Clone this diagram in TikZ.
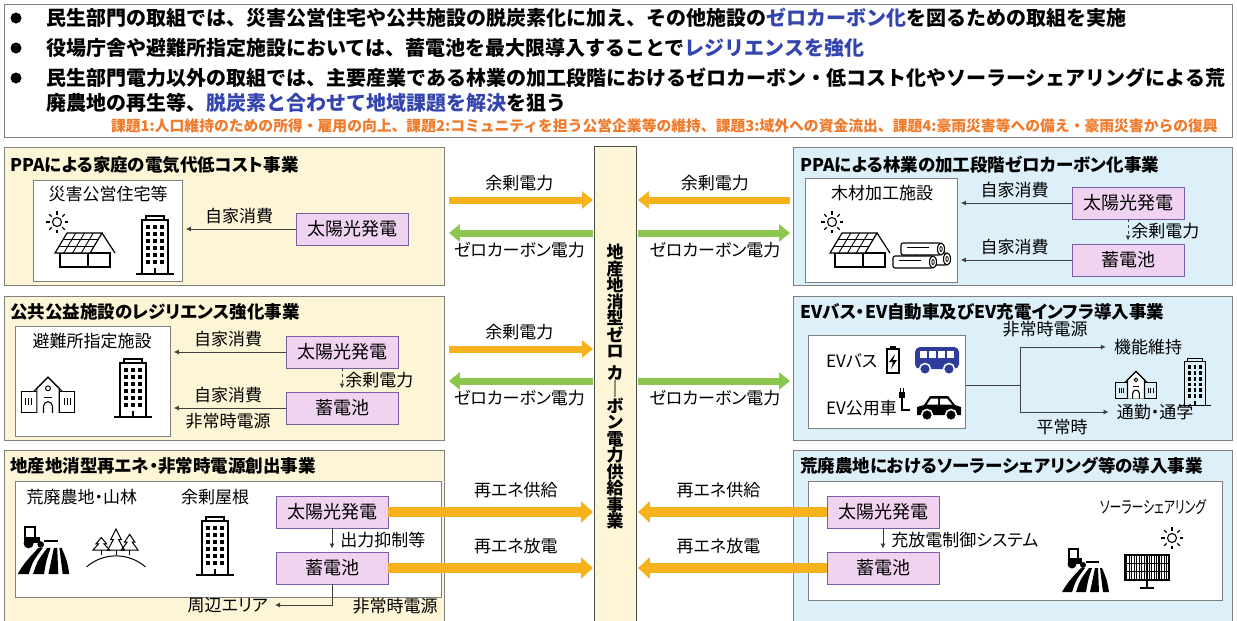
\documentclass[tikz,border=0pt]{standalone}
\usepackage{fontspec}
\setmainfont{Noto Sans CJK JP}
\newfontfamily\prop{Noto Sans CJK JP}[RawFeature=+palt]
\usetikzlibrary{arrows.meta,positioning}

% colori
\definecolor{giallino}{HTML}{FCF5D6}
\definecolor{azzurrino}{HTML}{DDEFF9}
\definecolor{rosa}{HTML}{F0D3F0}
\definecolor{viola}{HTML}{7A5FA8}
\definecolor{arancio}{HTML}{F5B21C}
\definecolor{verde}{HTML}{8CC64E}
\definecolor{blutesto}{HTML}{3545AE}
\definecolor{aranciotesto}{HTML}{F07A2A}
\definecolor{bordo}{HTML}{808080}
\definecolor{blubus}{HTML}{2F3C9C}

\tikzset{
  pannello/.style={draw=bordo, line width=0.9pt, anchor=north west, inner sep=0pt},
  bianco/.style={draw=bordo, line width=0.9pt, fill=white, anchor=north west, inner sep=0pt},
  titolo/.style={anchor=west, inner sep=0pt, font=\prop\bfseries\fontsize{17.5}{19}\selectfont},
  riga/.style={anchor=west, inner sep=0pt, font=\bfseries\fontsize{20}{22}\selectfont},
  etichetta/.style={inner sep=0pt, font=\prop\fontsize{17}{19}\selectfont},
  scatola/.style={draw=viola, line width=0.9pt, fill=rosa, minimum width=112pt, minimum height=32pt, inner sep=0pt, font=\prop\fontsize{18}{20}\selectfont},
  freccia/.style={line width=0.8pt, draw=black!75, -{Latex[length=5pt,width=5pt]}, shorten >=3pt},
  giallo/.style={line width=7pt, draw=arancio, -{Triangle[length=11pt,width=17pt]}},
  verdefr/.style={line width=7pt, draw=verde, -{Triangle[length=11pt,width=17pt]}},
  gialloG/.style={line width=10pt, draw=arancio, -{Triangle[length=12pt,width=21pt]}},
  % icone
  pics/sole/.style={code={
    \draw[line width=1.1pt] (0,0) circle (4.5);
    \foreach \a in {0,45,...,315} \draw[line width=1.1pt] (\a:7.5) -- (\a:11);
  }},
  pics/casa/.style={code={
    \draw[line width=1.2pt] (-25,3) rectangle (25,17);
    \draw[line width=1.2pt] (3,3) -- (3,17);
    \filldraw[line width=1.2pt, fill=white] (-30,3) -- (-18,-17) -- (17,-17) -- (5,3) -- cycle;
    \draw[line width=1.2pt] (17,-17) -- (30,3);
    \foreach \i in {1,2,3} \draw[line width=0.9pt] ({-18+8.75*\i},-17) -- ({-30+8.75*\i},3);
    \foreach \j in {1,2} \draw[line width=0.9pt] ({-18-4*\j},{-17+6.67*\j}) -- ({17-4*\j},{-17+6.67*\j});
  }},
  pics/edificio/.style={code={
    \draw[line width=1.2pt] (-13,-25) rectangle (13,29);
    \draw[line width=1.2pt] (-9,-29) rectangle (9,-25);
    \draw[line width=1.2pt] (-19,29) -- (19,29);
    \foreach \c in {-7,0,7} \foreach \r in {-18,-11,-4,3,10,17} \fill (\c-1.6,\r-2.2) rectangle (\c+1.6,\r+2.2);
    \draw[line width=1.4pt] (0,23) -- (0,29);
  }},
  pics/scuola/.style={code={
    \draw[line width=1.1pt] (-24,-3) rectangle (24,16);
    \filldraw[line width=1.1pt, fill=white] (-10,16) -- (-10,-6) -- (0,-16) -- (10,-6) -- (10,16);
    \draw[line width=1.1pt] (-13,-3) -- (0,-16) -- (13,-3);
    \draw[line width=1pt] (0,-6) circle (2.2);
    \draw[line width=1pt] (-4,2) -- (4,2);
    \draw[line width=1.1pt] (-4,16) -- (-4,10) arc (180:360:4) -- (4,16);
    \foreach \x in {-20,-17.5,-15,15,17.5,20} \draw[line width=1pt] (\x,3) -- (\x,9);
  }},
  pics/tronchi/.style={code={
    \foreach \x/\y/\l in {-5/3/31, -20/-7/40, -28/6/40} {
      \filldraw[fill=white, line width=1.1pt, rounded corners=2pt] (\x,\y-6) rectangle (\x+\l,\y+6);
      \filldraw[fill=white, line width=1.1pt] (\x+\l,\y) ellipse (3.5 and 6);
      \draw[line width=0.8pt] (\x+\l,\y) ellipse (1.2 and 2.5);
      \draw[line width=0.8pt] (\x+6,\y-1.5) -- (\x+\l-12,\y-1.5);
    }
  }},
  pics/campo/.style={code={
    \fill (-24,22) .. controls (-18,12) .. (-5,-2) -- (-1,-2) .. controls (-10,10) .. (-14,22) -- cycle;
    \fill (-10,22) .. controls (-6,10) .. (3,-2) -- (6,-2) .. controls (2,10) .. (0,22) -- cycle;
    \fill (4,22) .. controls (6,10) .. (9,-2) -- (12,-2) .. controls (12,10) .. (13,22) -- cycle;
    \fill (17,22) -- (23,22) .. controls (21,10) .. (16,-2) -- (14,-2) .. controls (16,10) .. cycle;
    \fill (-18,-12) rectangle (-4,-6);
    \draw[line width=2pt] (-17,-12) -- (-17,-21) -- (-8,-21) -- (-8,-12);
    \fill (-14,-6) circle (4.5);
    \fill (-3,-5) circle (3);
    \fill (0,-9) rectangle (13,-7);
  }},
  pics/alberi/.style={code={
    \foreach \x/\h in {-14/12, 0/20, 13/15} {
      \draw[line width=1pt] (\x,2-\h) -- (\x-5,{2-\h/2}) -- (\x-2.5,{2-\h/2}) -- (\x-8,2) -- (\x+8,2) -- (\x+2.5,{2-\h/2}) -- (\x+5,{2-\h/2}) -- cycle;
      \draw[line width=1pt] (\x,2) -- (\x,7);
    }
    \draw[line width=1pt] (-28,18) .. controls (-12,4) and (12,4) .. (28,18);
  }},
  pics/bus/.style={code={
    \fill[blubus, rounded corners=5pt] (-22,-13) rectangle (22,9);
    \foreach \x in {-17,-8,1,10} \fill[white] (\x,-9) rectangle (\x+6.5,-2);
    \filldraw[fill=blubus, draw=white, line width=1.5pt] (-12,9) circle (5.5);
    \filldraw[fill=blubus, draw=white, line width=1.5pt] (12,9) circle (5.5);
  }},
  pics/batteria/.style={code={
    \draw[line width=1.4pt] (-6,-11) rectangle (6,13);
    \fill (-3,-14) rectangle (3,-11);
    \fill (2,-6) -- (-4,2) -- (0,2) -- (-2,9) -- (4,0) -- (0,0) -- cycle;
  }},
  pics/auto/.style={code={
    \fill (-22,7) -- (-22,-1) -- (-15,-3) -- (-9,-12) -- (9,-12) -- (16,-3) -- (22,-1) -- (22,7) -- cycle;
    \fill[white] (-8,-9.5) -- (-12,-3.5) -- (-1,-3.5) -- (-1,-9.5) -- cycle;
    \fill[white] (1,-9.5) -- (1,-3.5) -- (13,-3.5) -- (8,-9.5) -- cycle;
    \filldraw[draw=white, line width=1.5pt] (-12,7) circle (5.5);
    \filldraw[draw=white, line width=1.5pt] (12,7) circle (5.5);
  }},
  pics/spina/.style={code={
    \fill (-3,-14) rectangle (3,-8);
    \draw[line width=1.2pt] (-1.5,-18) -- (-1.5,-14) (1.5,-18) -- (1.5,-14);
    \draw[line width=1.5pt] (0,-8) -- (0,4) -- (8,4);
  }},
  pics/pannelli/.style={code={
    \foreach \x in {-20.5,-18,...,20} \draw[line width=0.4pt] (\x,-15) -- (\x,10);
    \draw[line width=1.2pt] (-22,-15) rectangle (22,10);
    \foreach \x in {-11,0,11} \draw[line width=1pt] (\x,-15) -- (\x,10);
    \foreach \y in {-6.7,1.7} \draw[line width=1pt] (-22,\y) -- (22,\y);
    \draw[line width=1.5pt] (0,10) -- (0,18);
    \draw[line width=2pt] (-7,18) -- (7,18);
  }},
}

\begin{document}
\begin{tikzpicture}[x=1pt, y=-1pt]
  \useasboundingbox (0,0) rectangle (1237,621);

  % Riquadro superiore
  \node[pannello, fill=white, minimum width=1228pt, minimum height=133pt] (testa) at (4,4) {};
  \foreach \y in {18,48,78} \fill (16,\y) circle (5.5);
  \node[riga] (r1) at (46,18) {民生部門の取組では、災害公営住宅や公共施設の脱炭素化に加え、その他施設の\textcolor{blutesto}{ゼロカーボン化}を図るための取組を実施};
  \node[riga] (r2) at (46,48) {役場庁舎や避難所指定施設においては、蓄電池を最大限導入することで\textcolor{blutesto}{レジリエンスを強化}};
  \node[riga] (r3) at (46,78) {民生部門電力以外の取組では、主要産業である林業の加工段階におけるゼロカーボン・低コスト化やソーラーシェアリングによる荒};
  \node[riga] (r4) at (46,103) {廃農地の再生等、\textcolor{blutesto}{脱炭素と合わせて地域課題を解決}を狙う};
  \node[anchor=east, inner sep=0pt, text=aranciotesto, font=\bfseries\fontsize{14.8}{16}\selectfont] (rk) at (1218,126) {課題1:人口維持のための所得・雇用の向上、課題2:コミュニティを担う公営企業等の維持、課題3:域外への資金流出、課題4:豪雨災害等への備え・豪雨災害からの復興};

  % Pannelli
  \node[pannello, fill=giallino, minimum width=440pt, minimum height=138pt] (pA) at (4,147) {};
  \node[pannello, fill=giallino, minimum width=440pt, minimum height=144pt] (pB) at (4,296) {};
  \node[pannello, fill=giallino, minimum width=440pt, minimum height=180pt] (pC) at (4,450) {};
  \node[pannello, fill=azzurrino, minimum width=439pt, minimum height=138pt] (pD) at (793,147) {};
  \node[pannello, fill=azzurrino, minimum width=439pt, minimum height=144pt] (pE) at (793,296) {};
  \node[pannello, fill=azzurrino, minimum width=439pt, minimum height=180pt] (pF) at (793,450) {};
  \node[draw=black!70, line width=0.9pt, fill=giallino, minimum width=42pt, minimum height=480pt, anchor=north west, inner sep=0pt] (hub) at (594,146) {};
  \node[inner sep=0pt, align=center, font=\bfseries\fontsize{17}{16.5}\selectfont] (hubtesto) at (615,387) {地\\産\\地\\消\\型\\ゼ\\ロ\\[5pt]カ\\｜\\ボ\\ン\\電\\力\\供\\給\\事\\業};

  \node[titolo] (tA) at (10,165) {PPAによる家庭の電気代低コスト事業};
  \node[titolo] (tB) at (10,312) {公共公益施設のレジリエンス強化事業};
  \node[titolo] (tC) at (10,466) {地産地消型再エネ・非常時電源創出事業};
  \node[titolo] (tD) at (800,165) {PPAによる林業の加工段階ゼロカーボン化事業};
  \node[titolo] (tE) at (800,312) {EVバス・EV自動車及びEV充電インフラ導入事業};
  \node[titolo] (tF) at (800,466) {荒廃農地におけるソーラーシェアリング等の導入事業};

  % Riquadri bianchi
  \node[bianco, minimum width=149pt, minimum height=101pt] (wA) at (33,180) {};
  \node[bianco, minimum width=155pt, minimum height=110pt] (wB) at (15,326) {};
  \node[bianco, minimum width=426pt, minimum height=116pt] (wC) at (15,481) {};
  \node[bianco, minimum width=152pt, minimum height=104pt] (wD) at (805,178) {};
  \node[bianco, minimum width=157pt, minimum height=93pt] (wE) at (808,335) {};
  \node[bianco, minimum width=414pt, minimum height=119pt] (wF) at (808,481) {};

  % Testi e icone
  \node[etichetta] (nA) at (108,194) {災害公営住宅等};
  \pic at (57,222) {sole};
  \pic at (85,250) {casa};
  \pic at (155,245) {edificio};

  \node[etichetta] (nB) at (92,341) {避難所指定施設};
  \pic[scale=1.12] at (48,395) {scuola};
  \pic at (133,388) {edificio};

  \node[etichetta] (nC1) at (82,497) {荒廃農地・山林};
  \node[etichetta] (nC2) at (215,497) {余剰屋根};
  \pic[scale=1.1] at (44,550) {campo};
  \pic[scale=1.05] at (116,548) {alberi};
  \pic at (215,546) {edificio};

  \node[etichetta] (nD) at (882,193) {木材加工施設};
  \pic at (832,222) {sole};
  \pic at (860,250) {casa};
  \pic at (921,256) {tronchi};

  \node[etichetta, anchor=west] (evb) at (826,361) {EVバス};
  \node[etichetta, anchor=west] (evk) at (826,408) {EV公用車};
  \pic at (893,360) {batteria};
  \pic at (937,360) {bus};
  \pic at (902,406) {spina};
  \pic at (939,408) {auto};
  \node[etichetta] (fm) at (1148,347) {機能維持};
  \node[etichetta] (tg) at (1155,412) {通勤・通学};
  \pic[scale=0.85] at (1136,385) {scuola};
  \pic[scale=0.82] at (1195,382) {edificio};

  \node[etichetta] (nF) at (1153,507) {\scalebox{0.7}[1]{ソーラーシェアリング}};
  \pic at (1086,570) {campo};
  \pic at (1147,570) {pannelli};
  \pic at (1172,538) {sole};

  % Scatole
  \node[scatola] (sA) at (352,229) {太陽光発電};
  \node[scatola] (sB) at (342,352) {太陽光発電};
  \node[scatola] (bB) at (342,408) {蓄電池};
  \node[scatola] (sC) at (332,512) {太陽光発電};
  \node[scatola] (bC) at (332,568) {蓄電池};
  \node[scatola] (sD) at (1128,203) {太陽光発電};
  \node[scatola] (bD) at (1128,260) {蓄電池};
  \node[scatola] (sF) at (883,512) {太陽光発電};
  \node[scatola] (bF) at (883,568) {蓄電池};

  % Frecce interne
  \draw[freccia] (sA) -- (sA -| wA.east) node[etichetta, midway, above=5pt] {自家消費};
  \draw[freccia] (sB) -- (sB -| wB.east) node[etichetta, midway, above=5pt] {自家消費};
  \draw[freccia] (bB) -- (bB -| wB.east) node[etichetta, midway, above=5pt] {自家消費} node[etichetta, midway, below=5pt] {非常時電源};
  \draw[freccia, dashed] (sB) -- (bB) node[etichetta, midway, right=3pt] {余剰電力};
  \draw[freccia] (sD) -- (sD -| wD.east) node[etichetta, midway, above=5pt] {自家消費};
  \draw[freccia] (bD) -- (bD -| wD.east) node[etichetta, midway, above=5pt] {自家消費};
  \draw[freccia, dashed] (sD) -- (bD) node[etichetta, midway, right=3pt] {余剰電力};
  \draw[freccia] (sC) -- (bC) node[etichetta, midway, right=8pt] {出力抑制等};
  \coordinate (zona) at (272,605);
  \draw[freccia] (bC.south) |- (zona);
  \node[etichetta, left=4pt of zona] (pz) {周辺エリア};
  \node[etichetta] (nc) at (395,606) {非常時電源};
  \draw[freccia] (sF) -- (bF) node[etichetta, midway, right=8pt] {充放電制御システム};

  \coordinate (nodo) at (1020,385);
  \draw[line width=0.8pt, draw=black!75] (wE.east |- nodo) -- (nodo);
  \draw[freccia, shorten >=8pt] (nodo) |- (fm.west);
  \draw[freccia, shorten >=8pt] (nodo) |- (tg.west);
  \node[etichetta] (ns) at (1045,329) {非常時電源};
  \node[etichetta] (np) at (1062,427) {平常時};

  % Frecce centrali
  \coordinate (r1a) at (0,200);
  \coordinate (r1b) at (0,233);
  \coordinate (r2a) at (0,349);
  \coordinate (r2b) at (0,381);
  \draw[giallo, shorten <=4pt, shorten >=1pt] (pA.east |- r1a) -- (hub.west |- r1a) node[etichetta, midway, above=6pt] {余剰電力};
  \draw[verdefr, shorten <=1pt, shorten >=4pt] (hub.west |- r1b) -- (pA.east |- r1b) node[etichetta, midway, below=6pt] {ゼロカーボン電力};
  \draw[giallo, shorten <=3pt, shorten >=1pt] (pD.west |- r1a) -- (hub.east |- r1a) node[etichetta, midway, above=6pt] {余剰電力};
  \draw[verdefr, shorten <=1pt, shorten >=3pt] (hub.east |- r1b) -- (pD.west |- r1b) node[etichetta, midway, below=6pt] {ゼロカーボン電力};

  \draw[giallo, shorten <=4pt, shorten >=1pt] (pB.east |- r2a) -- (hub.west |- r2a) node[etichetta, midway, above=6pt] {余剰電力};
  \draw[verdefr, shorten <=1pt, shorten >=4pt] (hub.west |- r2b) -- (pB.east |- r2b) node[etichetta, midway, below=6pt] {ゼロカーボン電力};
  \draw[verdefr, shorten <=1pt, shorten >=3pt] (hub.east |- r2b) -- (pE.west |- r2b) node[etichetta, midway, below=6pt] {ゼロカーボン電力};

  \draw[gialloG, shorten >=1pt] (sC) -- (hub.west |- sC) node[etichetta, pos=0.62, above=9pt] {再エネ供給};
  \draw[gialloG, shorten >=1pt] (bC) -- (hub.west |- bC) node[etichetta, pos=0.62, above=9pt] {再エネ放電};
  \draw[gialloG, shorten >=1pt] (sF) -- (hub.east |- sF) node[etichetta, pos=0.57, above=9pt] {再エネ供給};
  \draw[gialloG, shorten >=1pt] (bF) -- (hub.east |- bF) node[etichetta, pos=0.57, above=9pt] {再エネ放電};
\end{tikzpicture}
\end{document}
